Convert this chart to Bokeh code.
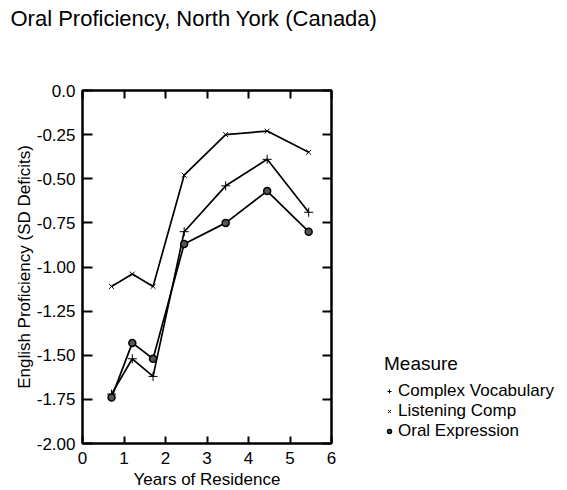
from bokeh.plotting import figure
from bokeh.layouts import column, row
from bokeh.models import LinearAxis, FixedTicker, Range1d, Legend, LegendItem, Label
from bokeh.embed import file_html
from bokeh.resources import INLINE

# ---- data ----
years = [0.7, 1.2, 1.7, 2.45, 3.45, 4.45, 5.45]
complex_vocab = [-1.72, -1.52, -1.62, -0.80, -0.54, -0.39, -0.69]
listening_comp = [-1.11, -1.04, -1.11, -0.48, -0.25, -0.23, -0.35]
oral_expression = [-1.74, -1.43, -1.52, -0.87, -0.75, -0.57, -0.80]

x_ticks = [0, 1, 2, 3, 4, 5, 6]
y_ticks = [0.0, -0.25, -0.5, -0.75, -1.0, -1.25, -1.5, -1.75, -2.0]
y_tick_labels = ["0.0", "-0.25", "-0.50", "-0.75", "-1.00", "-1.25", "-1.50", "-1.75", "-2.00"]

title_text = "Oral Proficiency, North York (Canada)"
x_label = "Years of Residence"
y_label = "English Proficiency (SD Deficits)"
legend_title = "Measure"
series_names = ["Complex Vocabulary", "Listening Comp", "Oral Expression"]

FONT = "Liberation Sans"

# ---------- title strip ----------
tf = figure(width=567, height=40, output_backend="svg", toolbar_location=None,
            x_range=Range1d(0, 567), y_range=Range1d(0, 40),
            x_axis_location=None, y_axis_location=None, min_border=0)
tf.grid.visible = False
tf.outline_line_color = None
tf.title.visible = False
tf.add_layout(Label(x=10, y=22, text=title_text, text_font=FONT, text_font_size="22px",
                    text_color="black", text_baseline="middle", text_align="left"))

# ---------- main plot ----------
p = figure(frame_width=249, frame_height=353, output_backend="svg", toolbar_location=None,
           x_range=Range1d(0, 6), y_range=Range1d(-2, 0),
           min_border_left=82, min_border_right=20, min_border_top=50, min_border_bottom=47,
           x_axis_label=x_label, y_axis_label=y_label)
p.title.visible = False
p.grid.visible = False
p.outline_line_color = "black"
p.outline_line_width = 2

for ax in [p.xaxis[0], p.yaxis[0]]:
    ax.axis_line_width = 2
    ax.axis_line_color = "black"
    ax.major_tick_out = 0
    ax.minor_tick_line_color = None
    ax.major_tick_line_width = 2
    ax.major_label_text_font = FONT
    ax.major_label_text_font_size = "17px"
    ax.major_label_text_color = "black"
    ax.axis_label_text_font = FONT
    ax.axis_label_text_font_size = "17px"
    ax.axis_label_text_font_style = "normal"
    ax.axis_label_text_color = "black"

p.xaxis[0].ticker = FixedTicker(ticks=x_ticks)
p.xaxis[0].major_tick_in = 7
p.xaxis[0].major_label_standoff = 8
p.xaxis[0].axis_label_standoff = 3

p.yaxis[0].ticker = FixedTicker(ticks=y_ticks)
p.yaxis[0].major_label_overrides = {t: l for t, l in zip(y_ticks, y_tick_labels)}
p.yaxis[0].major_tick_in = 10
p.yaxis[0].major_label_standoff = 7
p.yaxis[0].axis_label_standoff = 0

right = LinearAxis(ticker=FixedTicker(ticks=y_ticks),
                   major_label_overrides={t: "" for t in y_ticks},
                   major_tick_in=9, major_tick_out=0, major_tick_line_width=2,
                   minor_tick_line_color=None, axis_line_width=2, major_label_standoff=0)
p.add_layout(right, "right")
top = LinearAxis(ticker=FixedTicker(ticks=x_ticks),
                 major_label_overrides={t: "" for t in x_ticks},
                 major_tick_in=8, major_tick_out=0, major_tick_line_width=2,
                 minor_tick_line_color=None, axis_line_width=2, major_label_standoff=0)
p.add_layout(top, "above")

cross_style = dict(marker="cross", size=9, line_color="black", line_width=1)
x_style = dict(marker="x", size=7, line_color="black", line_width=1)
circ_style = dict(marker="circle", size=7, fill_color="#555555", line_color="black", line_width=1.5)

p.line(years, complex_vocab, line_color="black", line_width=1.7)
p.line(years, listening_comp, line_color="black", line_width=1.7)
p.line(years, oral_expression, line_color="black", line_width=1.7)
p.scatter(years, complex_vocab, **cross_style)
p.scatter(years, listening_comp, **x_style)
p.scatter(years, oral_expression, **circ_style)

# ---------- legend panel ----------
lf = figure(width=216, height=450, output_backend="svg", toolbar_location=None,
            x_range=Range1d(0, 1), y_range=Range1d(0, 1),
            x_axis_location=None, y_axis_location=None, min_border=0)
lf.title.visible = False
lf.grid.visible = False
lf.outline_line_color = None
g1 = lf.scatter(years, complex_vocab, visible=False, **cross_style)
g2 = lf.scatter(years, listening_comp, visible=False, **x_style)
g3 = lf.scatter(years, oral_expression, visible=False, **circ_style)
legend = Legend(items=[LegendItem(label=series_names[0], renderers=[g1]),
                       LegendItem(label=series_names[1], renderers=[g2]),
                       LegendItem(label=series_names[2], renderers=[g3])],
                location=(33, 1), title=legend_title,
                title_text_font=FONT, title_text_font_size="19px", title_text_font_style="normal",
                title_text_color="black",
                label_text_font=FONT, label_text_font_size="17px", label_text_color="black",
                glyph_width=10, glyph_height=14, label_height=14, label_standoff=4,
                spacing=0, padding=0, margin=0, border_line_color=None,
                background_fill_alpha=0, title_standoff=6,
                inactive_fill_alpha=0)
lf.add_layout(legend, "center")

layout = column(tf, row(p, lf, spacing=0), spacing=0)
open("out.html", "w").write(file_html(layout, INLINE))
